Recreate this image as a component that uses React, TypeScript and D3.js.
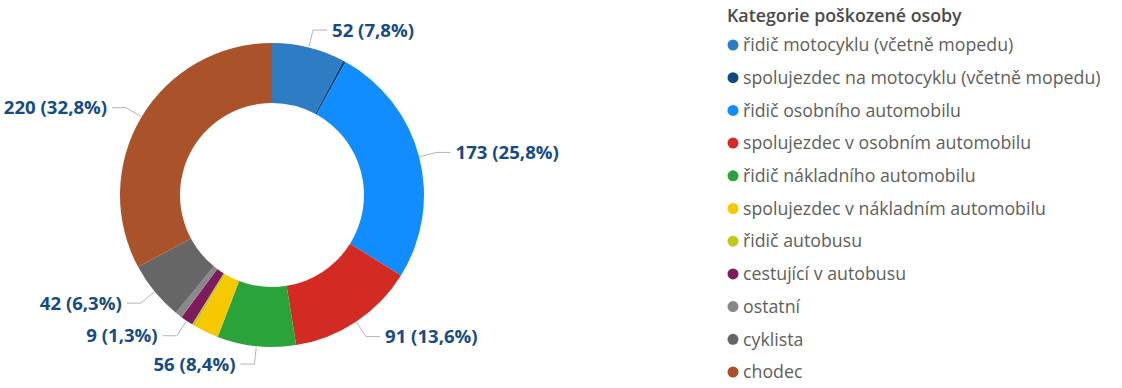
import React from "react";
import { pie, arc, sum } from "d3";

// kategorie poškozené osoby
const categories = [
  "řidič motocyklu (včetně mopedu)",
  "spolujezdec na motocyklu (včetně mopedu)",
  "řidič osobního automobilu",
  "spolujezdec v osobním automobilu",
  "řidič nákladního automobilu",
  "spolujezdec v nákladním automobilu",
  "řidič autobusu",
  "cestující v autobusu",
  "ostatní",
  "cyklista",
  "chodec",
];
const values = [52, 2, 173, 91, 56, 18, 2, 9, 5, 42, 220];
const colors = [
  "#2E7CC4", "#0F4A87", "#118DFF", "#D42A24", "#2BA33B",
  "#F6C800", "#C0C91A", "#7E1B5E", "#888888", "#666666", "#AA522A",
];
// which slices get a data label (the rest were hidden in the original)
const labeled = [true, false, true, true, true, false, false, true, false, true, true];

const W = 1122;
const H = 388;
const cx = 272;
const cy = 195;
const outerR = 152;
const innerR = 92;

const labelFont = "'Open Sans', 'Noto Sans', sans-serif";

export default function App() {
  const total = sum(values);
  const rows = categories.map((name, i) => ({ name, value: values[i], color: colors[i], label: labeled[i] }));
  const arcs = pie<any>().value((d) => d.value).sort(null)(rows);
  const slice = arc<any>().innerRadius(innerR).outerRadius(outerR);

  return (
    <div style={{ position: "fixed", left: 0, top: 0 }}>
      <svg width={W} height={H} style={{ display: "block", background: "#fff" }}>
        <g transform={`translate(${cx},${cy})`}>
          {arcs.map((a, i) => (
            <path key={i} d={slice(a) || ""} fill={a.data.color} />
          ))}
          {arcs.filter((a) => a.data.label).map((a, i) => {
            const mid = (a.startAngle + a.endAngle) / 2;
            const x0 = Math.sin(mid) * (outerR + 1);
            const y0 = -Math.cos(mid) * (outerR + 1);
            const x1 = Math.sin(mid) * 170;
            const y1 = -Math.cos(mid) * 170;
            const right = x1 >= 0;
            const x2 = x1 + (right ? 14 : -14);
            const tx = x2 + (right ? 5 : -5);
            const pct = ((a.data.value / total) * 100).toFixed(1).replace(".", ",");
            return (
              <g key={i}>
                <polyline
                  points={`${x0},${y0} ${x1},${y1} ${x2},${y1}`}
                  fill="none"
                  stroke="#B3B3B3"
                  strokeWidth={1}
                />
                <text
                  x={tx}
                  y={y1}
                  dy="0.35em"
                  textAnchor={right ? "start" : "end"}
                  fontFamily={labelFont}
                  fontWeight={700}
                  fontSize={18.6}
                  fill="#154B86"
                >
                  {`${a.data.value} (${pct}%)`}
                </text>
              </g>
            );
          })}
        </g>
        <g transform="translate(727,0)" fontFamily={labelFont}>
          <text x={0} y={16} dy="0.35em" fontSize={17.8} fontWeight={600} fill="#4A4A4A">
            Kategorie poškozené osoby
          </text>
          {rows.map((r, i) => (
            <g key={i} transform={`translate(0,${45 + i * 32.7})`}>
              <circle cx={6} cy={0} r={5.5} fill={r.color} />
              <text x={16} y={0} dy="0.35em" fontSize={17.75} fill="#605E5C">
                {r.name}
              </text>
            </g>
          ))}
        </g>
      </svg>
    </div>
  );
}
